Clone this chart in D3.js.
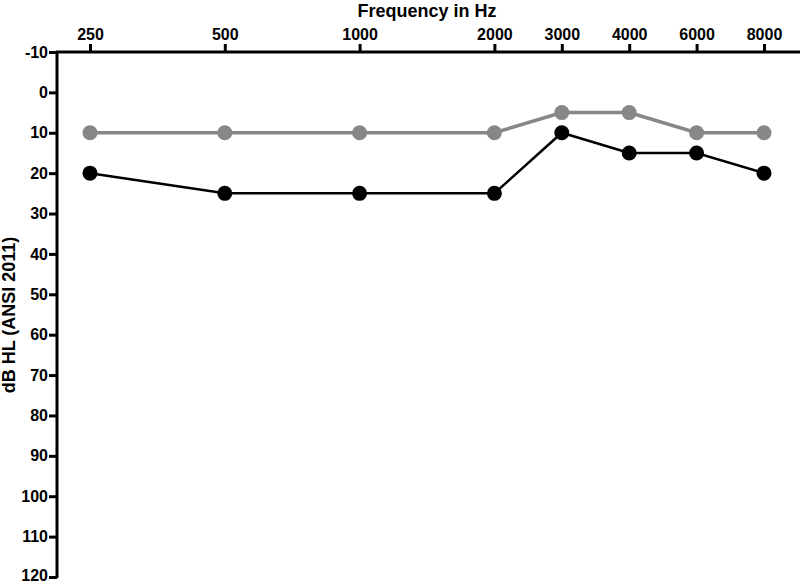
<!DOCTYPE html>
<html><head><meta charset="utf-8">
<script src="https://cdn.jsdelivr.net/npm/d3@7"></script>
<style>body{margin:0;background:#fff}svg{display:block}text{font-family:Arial,"Liberation Sans",sans-serif;font-weight:bold;fill:#000}</style>
</head><body>
<svg id="c" width="800" height="585"></svg>
<script>
const frequencies = [250, 500, 1000, 2000, 3000, 4000, 6000, 8000];
const octavePos = [0, 1, 2, 3, 3.5, 4, 4.5, 5];
const rightEar = [10, 10, 10, 10, 5, 5, 10, 10];
const leftEar = [20, 25, 25, 25, 10, 15, 15, 20];
const yTicks = [-10, 0, 10, 20, 30, 40, 50, 60, 70, 80, 90, 100, 110, 120];

const svg = d3.select("#c");
const x = d3.scaleLinear().domain([0, 5]).range([90, 764]);
const y = d3.scaleLinear().domain([-10, 120]).range([52, 577]);

const font = "Arial, 'Liberation Sans', sans-serif";
// axes
const xAxis = d3.axisTop(x).tickValues(octavePos).tickFormat((d,i)=>frequencies[i]).tickSize(8).tickSizeOuter(0).tickPadding(4);
const gx = svg.append("g").attr("transform","translate(0,52)").call(xAxis);
gx.select(".domain").remove();
gx.append("line").attr("x1",56).attr("x2",800).attr("y1",0).attr("y2",0).attr("stroke","#000").attr("stroke-width",3);
gx.selectAll(".tick line").attr("stroke","#000").attr("stroke-width",3);
gx.selectAll(".tick text").style("font-size","16px").style("font-weight","bold").attr("fill","#000").style("font-family",font);

const yAxis = d3.axisLeft(y).tickValues(yTicks).tickFormat(d => String(d)).tickSize(8).tickSizeOuter(0).tickPadding(1);
const gy = svg.append("g").attr("transform","translate(57,0)").call(yAxis);
gy.select(".domain").remove();
gy.append("line").attr("x1",0).attr("x2",0).attr("y1",51).attr("y2",578).attr("stroke","#000").attr("stroke-width",3);
gy.selectAll(".tick line").attr("stroke","#000").attr("stroke-width",3);
gy.selectAll(".tick text").style("font-size","16px").style("font-weight","bold").attr("fill","#000").style("font-family",font)
  .attr("dy", d => d === 120 ? "0.2em" : "0.32em");

svg.append("text").attr("x",427).attr("y",16.5).attr("text-anchor","middle").style("font-size","18px").text("Frequency in Hz");
svg.append("text").attr("transform","translate(15,315) rotate(-90)").attr("text-anchor","middle").style("font-size","18px").text("dB HL (ANSI 2011)");

const line = d3.line().x((d,i)=>x(octavePos[i])).y(d=>y(d));
function series(data, color, w){
  svg.append("path").datum(data).attr("d",line).attr("fill","none").attr("stroke",color).attr("stroke-width",w);
  svg.selectAll(null).data(data).enter().append("circle")
    .attr("cx",(d,i)=>x(octavePos[i])).attr("cy",d=>y(d)).attr("r",7.5).attr("fill",color);
}
series(rightEar, "#878787", 3.5);
series(leftEar, "#000", 2.5);
</script>
</body></html>
